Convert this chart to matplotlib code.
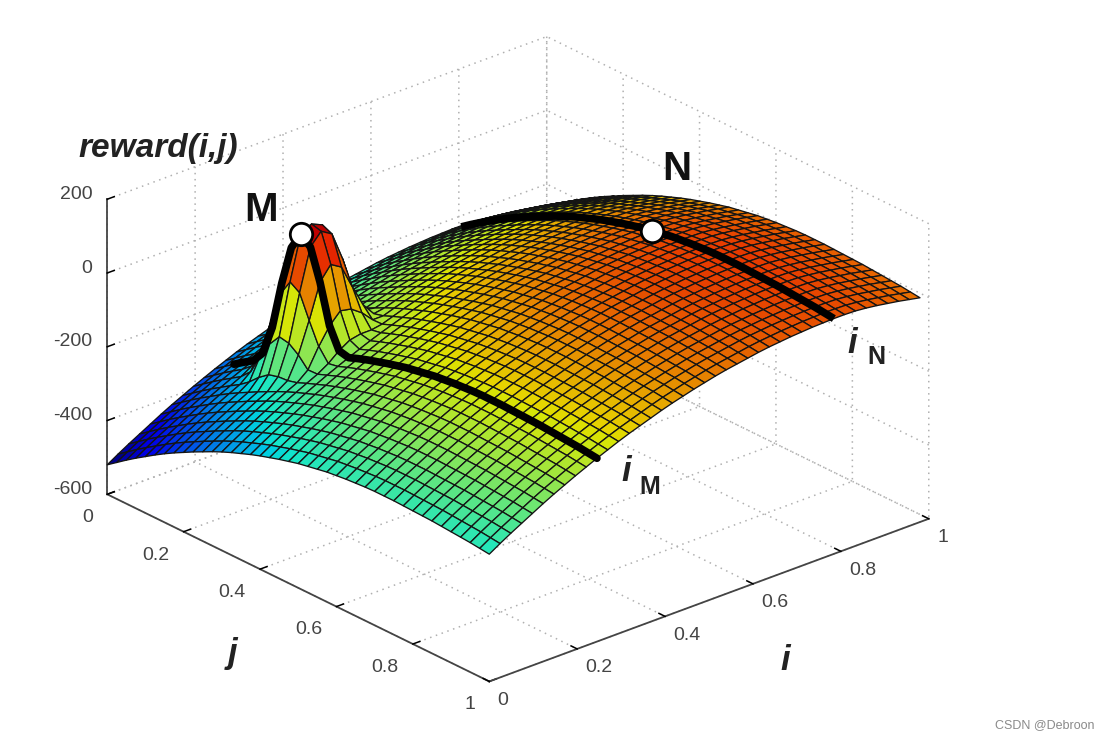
import numpy as np
import matplotlib
matplotlib.use("Agg")
import matplotlib.pyplot as plt
from matplotlib.colors import ListedColormap

plt.rcParams["font.family"] = ["Liberation Sans", "DejaVu Sans"]
plt.rcParams["grid.linestyle"] = (0, (1, 3))
plt.rcParams["grid.color"] = "#b0b0b0"
plt.rcParams["grid.linewidth"] = 1.1
plt.rcParams["axes3d.automargin"] = False

# height along i, read from the j=1 edge (relative to i=0)
height_i = [0, 18, 35, 51, 67, 83, 98, 112, 126, 139, 152, 164, 176, 187, 197, 207, 217, 226, 234, 242, 249,
            256, 262, 267, 272, 277, 281, 284, 287, 289, 291, 292, 293, 293, 292, 289, 285, 280, 275, 269, 263]
# height along j, read from the i=0 edge
height_j = [-520, -501, -482, -464, -447, -430, -414, -399, -385, -371, -358, -345, -333, -322, -312, -302, -293,
            -285, -277, -270, -263, -258, -253, -248, -245, -242, -240, -238, -237, -237, -237, -238, -239, -240,
            -241, -243, -245, -247, -249, -252, -255]
# the narrow peak M, added on top of the smooth surface
peak_m = [[0, 0, 5, 16, 22, 16, 5, 0, 0],
          [0, 10, 50, 82, 100, 82, 50, 10, 0],
          [5, 50, 120, 195, 225, 195, 120, 50, 5],
          [16, 82, 200, 295, 330, 295, 200, 82, 16],
          [22, 100, 225, 315, 335, 315, 225, 100, 22],
          [16, 82, 195, 285, 310, 285, 195, 82, 16],
          [5, 50, 120, 195, 225, 195, 120, 50, 5],
          [0, 10, 50, 82, 100, 82, 50, 10, 0],
          [0, 0, 5, 16, 22, 16, 5, 0, 0]]

j_ticks = [0, 0.2, 0.4, 0.6, 0.8, 1]
i_ticks = [0, 0.2, 0.4, 0.6, 0.8, 1]
z_ticks = [-600, -400, -200, 0, 200]
j_labels = ["0", "0.2", "0.4", "0.6", "0.8", "1"]
i_labels = ["0", "0.2", "0.4", "0.6", "0.8", "1"]
z_labels = ["-600", "-400", "-200", "0", "200"]

# grid rows holding the two slices and the two marked points
row_m, row_n = 10, 32
col_m, col_n = 9, 21
row_peak = 11

j_vals = np.linspace(0, 1, 41)
i_vals = np.linspace(0, 0.98, 41)
J, I = np.meshgrid(j_vals, i_vals)
Z = np.add.outer(np.array(height_i, float), np.array(height_j, float))
Z[row_peak - 4:row_peak + 5, col_m - 4:col_m + 5] += np.array(peak_m)

# jet, a bit darker: the reference is a blurred video frame
dark_jet = ListedColormap(plt.get_cmap("jet")(np.arange(256))[:, :3] * 0.9)

fig = plt.figure(figsize=(11.08, 7.40), dpi=100)
ax = fig.add_axes([-46 / 1108, 1 / 740, 1, 1], projection="3d", computed_zorder=False)
ax.set_proj_type("ortho")
ax.view_init(elev=25.2, azim=-41)
ax.set_box_aspect((1, 1, 0.56), zoom=1.162)
ax.patch.set_alpha(0)

surf = ax.plot_surface(J, I, Z, rcount=41, ccount=41, cmap=dark_jet, vmin=-520, vmax=165, shade=False,
                       edgecolor="#141414", linewidth=0.95, zorder=1)
surf.set_clip_on(False)

# the two black slices
ax.plot(J[row_m, 2:], I[row_m, 2:], Z[row_m, 2:], color="black", lw=5.5, zorder=2, solid_capstyle="round",
        clip_on=False)
ax.plot(J[row_n, 1:], I[row_n, 1:], Z[row_n, 1:], color="black", lw=5.5, zorder=2, solid_capstyle="butt",
        clip_on=False)
ax.scatter([J[row_m, col_m], J[row_n, col_n]], [I[row_m, col_m], I[row_n, col_n]],
           [Z[row_m, col_m], Z[row_n, col_n]], s=260, c="white", edgecolors="black", linewidths=2,
           depthshade=False, zorder=3, clip_on=False)

ax.set_xlim(0, 1)
ax.set_ylim(0, 1)
ax.set_zlim(-600, 200)
ax.set_xticks(j_ticks, j_labels, fontsize=14, color="#444444", ha="right")
ax.set_yticks(i_ticks, i_labels, fontsize=14, color="#444444", ha="left")
ax.set_zticks(z_ticks, z_labels, fontsize=14, color="#444444", ha="right", va="baseline")
ax.zaxis.set_ticks_position("lower")
for axis in (ax.xaxis, ax.yaxis, ax.zaxis):
    axis.set_pane_color((1, 1, 1, 1))
    axis.pane.set_edgecolor("none")
    axis.line.set_color("#444444")
    axis.line.set_linewidth(1.3)
    axis._axinfo["tick"]["color"] = "#444444"
    axis._axinfo["tick"]["linewidth"] = {True: 1.1, False: 0.5}
    axis._axinfo["tick"]["inward_factor"] = 0.0
    axis._axinfo["tick"]["outward_factor"] = 0.2
ax.tick_params(axis="x", pad=1)
ax.tick_params(axis="y", pad=-2)
ax.tick_params(axis="z", pad=-3)

W, H = 1108.0, 740.0
def label(x, y, s, **kw):
    fig.text(x / W, 1 - y / H, s, ha="center", va="center", **kw)

label(158, 148, "reward(i,j)", fontsize=24, fontweight="bold", fontstyle="italic", color="#222222")
label(261, 210, "M", fontsize=29, fontweight="bold", color="#111111")
label(677, 169, "N", fontsize=29, fontweight="bold", color="#111111")
label(233, 653, "j", fontsize=25, fontweight="bold", fontstyle="italic", color="#222222")
label(785, 660, "i", fontsize=25, fontweight="bold", fontstyle="italic", color="#222222")
label(626, 471, "i", fontsize=25, fontweight="bold", fontstyle="italic", color="#222222")
label(650, 487, "M", fontsize=18, fontweight="bold", color="#222222")
label(852, 343, "i", fontsize=25, fontweight="bold", fontstyle="italic", color="#222222")
label(876, 357, "N", fontsize=18, fontweight="bold", color="#222222")
label(1045, 725, "CSDN @Debroon", fontsize=9, color="#8a8a8a")

fig.savefig("out.png", dpi=100)
